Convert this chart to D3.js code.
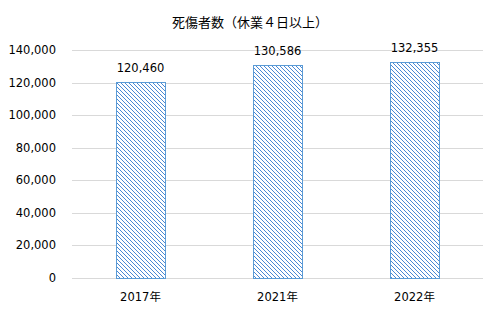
<!DOCTYPE html>
<html>
<head>
<meta charset="utf-8">
<script src="https://cdn.jsdelivr.net/npm/d3@7"></script>
<style>
  body { margin: 0; background: #fff; }
  text { font-family: "DejaVu Sans", "Noto Sans CJK JP", sans-serif; fill: #000; }
  .title { font-family: "Noto Sans CJK JP", sans-serif; }
</style>
</head>
<body>
<div id="chart"></div>
<script>
// 死傷者数 bar chart
const years = ['2017年', '2021年', '2022年'];
const counts = [120460, 130586, 132355];
const yTicks = [0, 20000, 40000, 60000, 80000, 100000, 120000, 140000];

const W = 498, H = 314;
const m = { top: 50, right: 15, bottom: 36, left: 72 };
const w = W - m.left - m.right;
const h = H - m.top - m.bottom;

const svg = d3.select('#chart').append('svg')
    .attr('width', W).attr('height', H);

// hatch pattern
const pat = svg.append('defs').append('pattern')
    .attr('id', 'hatch')
    .attr('patternUnits', 'userSpaceOnUse')
    .attr('width', 4).attr('height', 4);
pat.append('rect').attr('width', 4).attr('height', 4).attr('fill', '#fff');
pat.append('path')
    .attr('d', 'M-1,-1 L5,5 M-1,3 L1,5 M3,-1 L5,1')
    .attr('stroke', '#4a88d4').attr('stroke-width', 1);

svg.append('text')
    .attr('class', 'title')
    .attr('x', 250).attr('y', 27)
    .attr('text-anchor', 'middle')
    .attr('font-size', 13)
    .text('死傷者数（休業４日以上）');

const g = svg.append('g').attr('transform', `translate(${m.left},${m.top})`);

const x = d3.scaleBand().domain(years).range([0, w]).paddingInner(0.64).paddingOuter(0.32);
const y = d3.scaleLinear().domain([0, 140000]).range([h, 0]);

// gridlines
g.selectAll('.grid')
    .data(yTicks)
    .enter().append('line')
    .attr('x1', 0).attr('x2', w)
    .attr('y1', d => Math.round(y(d)) + 0.5)
    .attr('y2', d => Math.round(y(d)) + 0.5)
    .attr('stroke', '#d9d9d9').attr('stroke-width', 1);

// y tick labels
g.selectAll('.ytick')
    .data(yTicks)
    .enter().append('text')
    .attr('x', -16).attr('y', d => y(d))
    .attr('dy', '0.35em')
    .attr('text-anchor', 'end')
    .attr('font-size', 11.5)
    .text(d => d3.format(',')(d));

// bars
g.selectAll('.bar')
    .data(counts)
    .enter().append('rect')
    .attr('x', (d, i) => Math.round(x(years[i])) + 0.5)
    .attr('y', d => Math.round(y(d)) + 0.5)
    .attr('width', Math.round(x.bandwidth()))
    .attr('height', d => h - Math.round(y(d)))
    .attr('fill', 'url(#hatch)')
    .attr('stroke', '#5b9bd5').attr('stroke-width', 1);

// value labels
g.selectAll('.val')
    .data(counts)
    .enter().append('text')
    .attr('x', (d, i) => x(years[i]) + x.bandwidth() / 2)
    .attr('y', d => y(d) - 10)
    .attr('text-anchor', 'middle')
    .attr('font-size', 11.5)
    .text(d => d3.format(',')(d));

// x labels
g.selectAll('.xlab')
    .data(years)
    .enter().append('text')
    .attr('x', d => x(d) + x.bandwidth() / 2)
    .attr('y', h + 23)
    .attr('text-anchor', 'middle')
    .attr('font-size', 11.5)
    .text(d => d);
</script>
</body>
</html>
